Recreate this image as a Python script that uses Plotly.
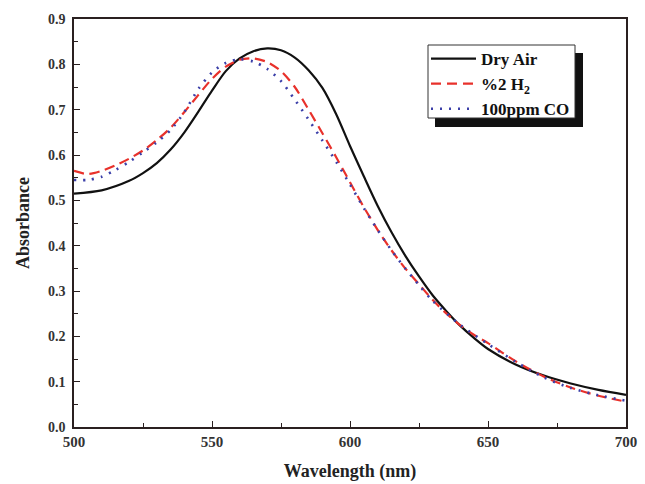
import plotly.graph_objects as go

wl_air = [500, 510, 520, 525, 530, 535, 540, 545, 550, 555, 560, 565, 570, 575, 580, 585, 590,
          595, 600, 605, 610, 615, 620, 625, 630, 635, 640, 645, 650, 660, 670, 680, 690, 700]
dry_air = [0.515, 0.522, 0.543, 0.560, 0.582, 0.612, 0.650, 0.695, 0.742, 0.785, 0.813, 0.829,
           0.835, 0.831, 0.815, 0.787, 0.748, 0.690, 0.620, 0.553, 0.488, 0.430, 0.378, 0.332,
           0.290, 0.255, 0.223, 0.196, 0.172, 0.138, 0.114, 0.096, 0.082, 0.071]

wl_h2 = [500, 505, 510, 515, 520, 525, 530, 535, 540, 545, 550, 555, 560, 565, 570, 575, 580,
         585, 590, 595, 600, 605, 610, 615, 620, 625, 630, 635, 640, 645, 650, 660, 670, 680, 690, 700]
h2 = [0.565, 0.558, 0.565, 0.577, 0.592, 0.610, 0.633, 0.660, 0.695, 0.732, 0.768, 0.795, 0.810,
      0.813, 0.805, 0.785, 0.750, 0.700, 0.648, 0.595, 0.540, 0.485, 0.435, 0.390, 0.350, 0.315,
      0.280, 0.250, 0.224, 0.203, 0.185, 0.145, 0.112, 0.087, 0.069, 0.056]

wl_co = [500, 505, 510, 515, 520, 525, 530, 535, 540, 545, 550, 555, 560, 565, 570, 575, 580,
         585, 590, 595, 600, 605, 610, 615, 620, 625, 630, 640, 650, 660, 670, 680, 690, 700]
co = [0.545, 0.545, 0.552, 0.567, 0.585, 0.606, 0.628, 0.655, 0.695, 0.745, 0.782, 0.803, 0.811,
      0.806, 0.790, 0.763, 0.722, 0.678, 0.632, 0.585, 0.535, 0.483, 0.435, 0.390, 0.350, 0.313,
      0.278, 0.225, 0.183, 0.144, 0.110, 0.086, 0.070, 0.058]

FONT = "Liberation Serif"

fig = go.Figure()
fig.add_trace(go.Scatter(x=wl_air, y=dry_air, mode="lines", name="Dry Air",
                         line=dict(color="#111111", width=2.2, shape="spline", smoothing=0.8)))
fig.add_trace(go.Scatter(x=wl_h2, y=h2, mode="lines", name="%2 H<sub>2</sub>",
                         line=dict(color="#e8312b", width=2.2, dash="10px,6px", shape="spline",
                                   smoothing=0.8)))
fig.add_trace(go.Scatter(x=wl_co, y=co, mode="lines", name="100ppm CO",
                         line=dict(color="#3b3fa8", width=2.6, dash="2px,7px", shape="spline",
                                   smoothing=0.8)))

axis_common = dict(showgrid=False, zeroline=False, showline=True, linecolor="#2a2020",
                   linewidth=1.5, mirror=True, ticks="inside", ticklen=6, tickwidth=1.3,
                   tickcolor="#2a2020", automargin=False)

fig.update_xaxes(range=[500, 700], dtick=50, tick0=500,
                 tickfont=dict(family=FONT, size=15, color="#333333", weight="bold"),
                 minor=dict(dtick=25, ticks="inside", ticklen=4, tickcolor="#2a2020"),
                 title=dict(text="Wavelength (nm)",
                            font=dict(family=FONT, size=18, color="#222222", weight="bold"),
                            standoff=16),
                 **axis_common)
fig.update_yaxes(range=[0, 0.9], dtick=0.1, tick0=0, tickformat=".1f",
                 tickfont=dict(family=FONT, size=14, color="#333333", weight="bold"),
                 ticklabelstandoff=4,
                 minor=dict(dtick=0.05, ticks="inside", ticklen=4, tickcolor="#2a2020"),
                 title=dict(text="Absorbance",
                            font=dict(family=FONT, size=18, color="#222222", weight="bold"),
                            standoff=14),
                 **axis_common)


def px_x(p):
    return (p - 74) / 552


def px_y(p):
    return (427 - p) / 408


fig.update_layout(
    width=645, height=484,
    margin=dict(l=74, r=19, t=19, b=57),
    paper_bgcolor="white", plot_bgcolor="white",
    legend=dict(x=px_x(426), y=px_y(41), xanchor="left", yanchor="top",
                bgcolor="rgba(0,0,0,0)", borderwidth=0,
                font=dict(family=FONT, size=17, color="#111111", weight="bold"),
                itemwidth=45, tracegroupgap=0),
    shapes=[
        dict(type="rect", xref="paper", yref="paper",
             x0=px_x(435), x1=px_x(583), y0=px_y(127), y1=px_y(53),
             fillcolor="#111111", line=dict(width=0), layer="above"),
        dict(type="rect", xref="paper", yref="paper",
             x0=px_x(428), x1=px_x(575), y0=px_y(118), y1=px_y(45),
             fillcolor="white", line=dict(width=1, color="#333333"), layer="above"),
    ],
)

fig.write_html("out.html")
